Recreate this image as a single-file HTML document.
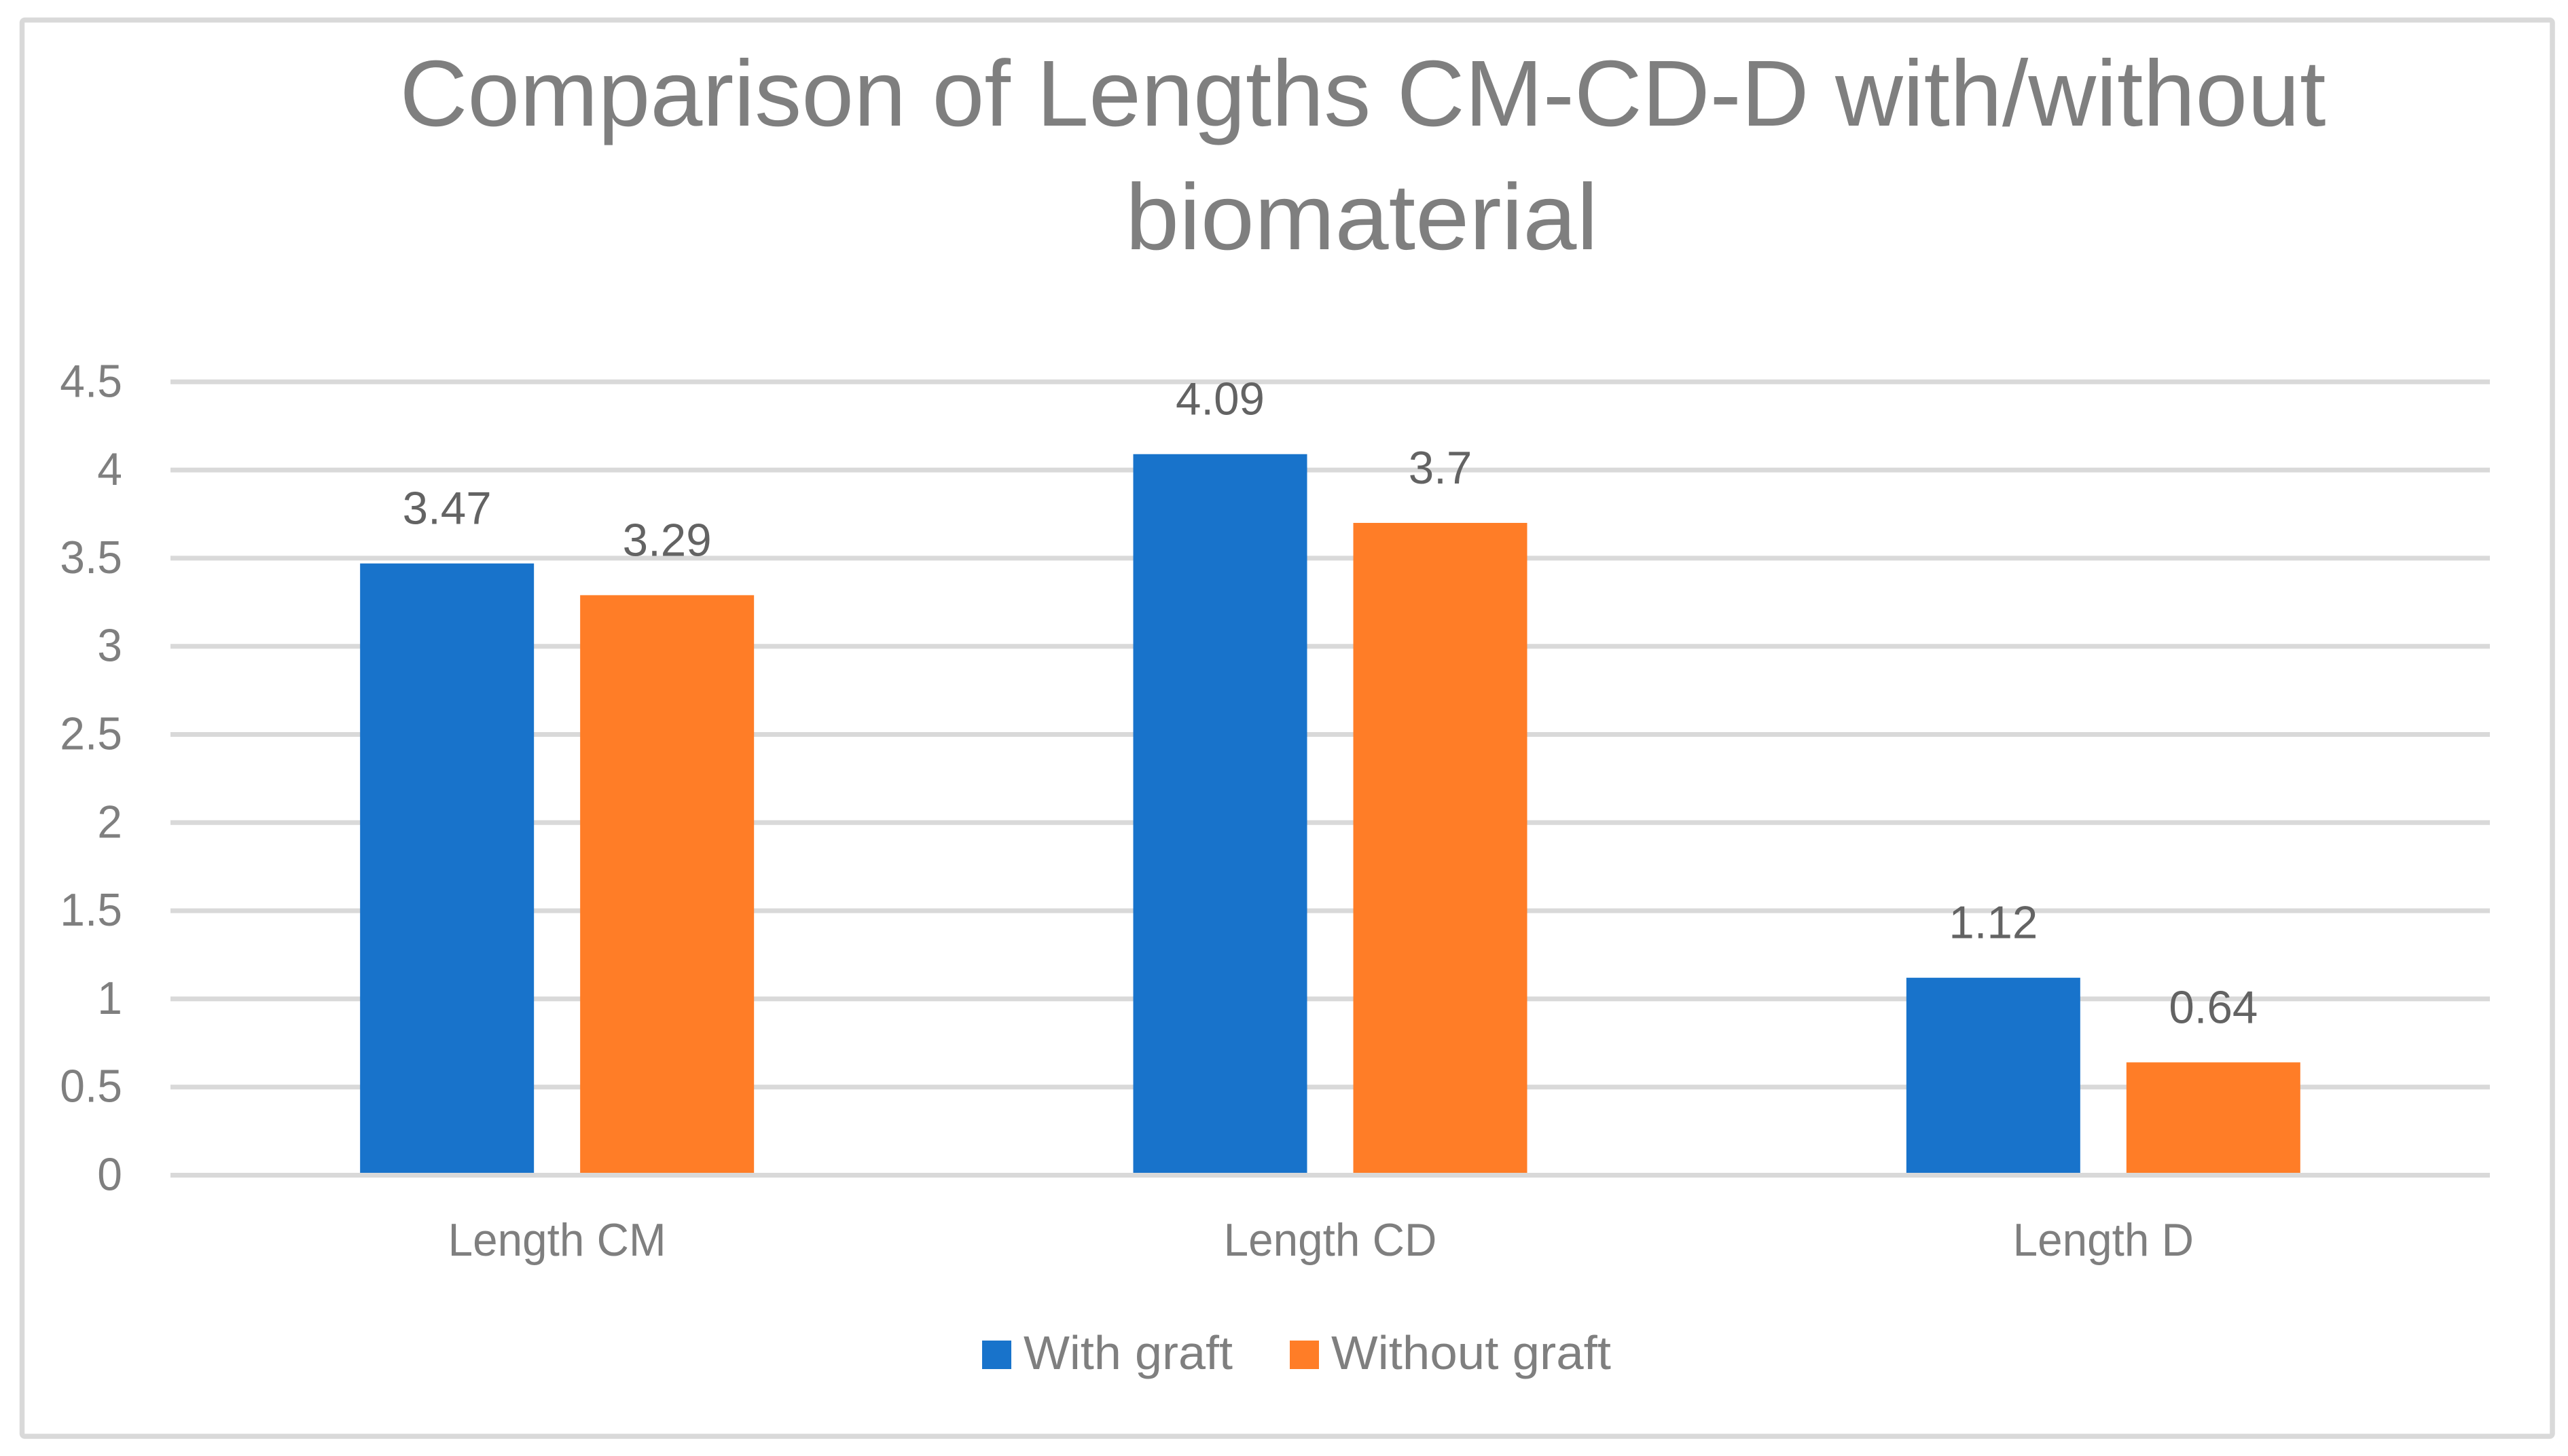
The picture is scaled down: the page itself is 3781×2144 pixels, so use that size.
<!DOCTYPE html>
<html lang="en">
<head>
<meta charset="utf-8">
<title>Comparison of Lengths CM-CD-D with/without biomaterial</title>
<style>
html,body{margin:0;padding:0;background:#fff;width:3781px;height:2144px;overflow:hidden}
svg{display:block}
text{font-family:"Liberation Sans",sans-serif}
</style>
</head>
<body>
<svg id="chart" xmlns="http://www.w3.org/2000/svg" width="3781" height="2144" viewBox="0 0 3781 2144">
  <rect x="0" y="0" width="3781" height="2144" fill="#ffffff"/>
  <rect x="32.5" y="29.5" width="3725.5" height="2085.5" rx="4" fill="#ffffff" stroke="#d9d9d9" stroke-width="7.5"/>
  <g fill="#7f7f7f" font-size="138">
    <text x="2006.5" y="185" text-anchor="middle" textLength="2836" lengthAdjust="spacingAndGlyphs">Comparison of Lengths CM-CD-D with/without</text>
    <text x="2005" y="367" text-anchor="middle" textLength="696" lengthAdjust="spacingAndGlyphs">biomaterial</text>
  </g>
  <g id="grid"></g>
  <g id="yticks"></g>
  <g id="bars"></g>
  <g id="baseline"></g>
  <g id="values"></g>
  <g id="cats"></g>
  <g fill="#7f7f7f" font-size="70">
    <g>
      <rect x="1446" y="1974" width="43" height="42" fill="#1873cb"/>
      <text x="1507" y="2016" textLength="308" lengthAdjust="spacingAndGlyphs">With graft</text>
    </g>
    <g>
      <rect x="1899" y="1974" width="43" height="42" fill="#ff7d27"/>
      <text x="1960" y="2016" textLength="412" lengthAdjust="spacingAndGlyphs">Without graft</text>
    </g>
  </g>
</svg>
<script>
const categories = ["Length CM", "Length CD", "Length D"];
const withGraft = [3.47, 4.09, 1.12];
const withoutGraft = [3.29, 3.7, 0.64];
const yTickValues = [0, 0.5, 1, 1.5, 2, 2.5, 3, 3.5, 4, 4.5];

const SVG_NS = "http://www.w3.org/2000/svg";
const plotLeft = 251, plotRight = 3666;
const yZero = 1730.5, pxPerUnit = 259.6;
const barWidth = 256, barGap = 68;

function yScale(v) { return yZero - v * pxPerUnit; }
function bandCenter(i) { return plotLeft + (plotRight - plotLeft) * (i + 0.5) / categories.length; }
function barLeft(i, s) {
  const total = barWidth * 2 + barGap;
  return bandCenter(i) - total / 2 + s * (barWidth + barGap);
}
function make(tag, parent) {
  const el = document.createElementNS(SVG_NS, tag);
  parent.appendChild(el);
  return el;
}
function setAll(el, attrs) {
  for (const k in attrs) el.setAttribute(k, attrs[k]);
}
function squeeze(el, k) {
  const w = el.getComputedTextLength();
  el.setAttribute("textLength", (w * k).toFixed(1));
  el.setAttribute("lengthAdjust", "spacingAndGlyphs");
}

const gridG = document.getElementById("grid");
const tickG = document.getElementById("yticks");
yTickValues.forEach(function (v) {
  if (v !== 0) {
    const line = make("line", gridG);
    
    
    setAll(line, { x1: plotLeft, x2: plotRight, y1: yScale(v), y2: yScale(v), stroke: "#d9d9d9", "stroke-width": 7 });
  }
  const t = make("text", tickG);
  
  
  setAll(t, { x: 180, y: yScale(v) + 22, "text-anchor": "end", "font-size": 68, fill: "#7f7f7f" });
  t.textContent = String(v);
  squeeze(t, 0.97);
});

const barsG = document.getElementById("bars");
const valuesG = document.getElementById("values");
function drawSeries(values, s, color, nameBar, nameLabel) {
  values.forEach(function (v, i) {
    const r = make("rect", barsG);
    
    
    setAll(r, { x: barLeft(i, s), y: yScale(v), width: barWidth, height: yZero - yScale(v), fill: color });
    const t = make("text", valuesG);
    
    
    setAll(t, { x: barLeft(i, s) + barWidth / 2, y: yScale(v) - 58, "text-anchor": "middle", "font-size": 68, fill: "#636363" });
    t.textContent = String(v);
    squeeze(t, 0.99);
  });
}
drawSeries(withGraft, 0, "#1873cb", "bar-with-graft", "data-label-with-graft");
drawSeries(withoutGraft, 1, "#ff7d27", "bar-without-graft", "data-label-without-graft");

const baseG = document.getElementById("baseline");
const axisLine = make("line", baseG);


setAll(axisLine, { x1: plotLeft, x2: plotRight, y1: yZero, y2: yZero, stroke: "#d9d9d9", "stroke-width": 7 });

const catsG = document.getElementById("cats");
categories.forEach(function (c, i) {
  const t = make("text", catsG);
  
  
  setAll(t, { x: bandCenter(i), y: 1849, "text-anchor": "middle", "font-size": 68, fill: "#7f7f7f" });
  t.textContent = c;
  squeeze(t, 0.965);
});
</script>
</body>
</html>
